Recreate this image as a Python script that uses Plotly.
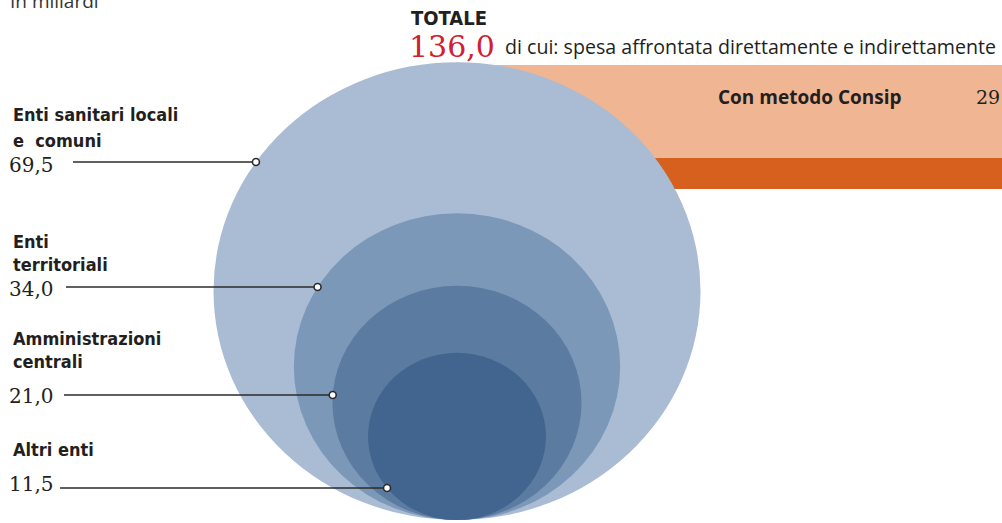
import plotly.graph_objects as go

# ---- data ----
categories = ["Enti sanitari locali", "Enti territoriali", "Amministrazioni centrali", "Altri enti"]
label_lines = [["Enti sanitari locali", "e\u00a0 comuni"], ["Enti", "territoriali"],
               ["Amministrazioni", "centrali"], ["Altri enti"]]
values = [69.5, 34.0, 21.0, 11.5]
value_labels = ["69,5", "34,0", "21,0", "11,5"]
total = 136.0
total_label = "136,0"
consip_label = "Con metodo Consip"
consip_value = 29

# ---- style / layout ----
W, H = 1002, 523
colors = ["#a9bcd4", "#7c98b9", "#5b7ba1", "#41658f"]
CX, BOTTOM = 457, 520
R_MAX = 243.5
ASPECT = 0.94
EXP = 0.56
label_line_y = [162, 287, 395, 488]
label_line_x0 = [73, 66, 64, 60]
name_y = [[114, 140], [241, 264], [338, 361], [449]]
num_y = [165, 289, 396, 484]

SANS_B = "Liberation Sans Narrow, DejaVu Sans Condensed, Arial Narrow, sans-serif"
SANS = "Open Sans, DejaVu Sans, sans-serif"
SERIF = "DejaVu Serif, serif"
TXT = "#231f20"

fig = go.Figure()
shapes = []

# orange bands (behind circles)
shapes.append(dict(type="rect", xref="x", yref="y", x0=490, x1=W + 5, y0=65, y1=158,
                   fillcolor="#f0b592", line=dict(width=0), layer="below"))
shapes.append(dict(type="rect", xref="x", yref="y", x0=490, x1=W + 5, y0=158, y1=189,
                   fillcolor="#d6601e", line=dict(width=0), layer="below"))

vmax = max(values)
geo = []
for v, c in zip(values, colors):
    rx = R_MAX * (v / vmax) ** EXP
    ry = rx * ASPECT
    cy = BOTTOM - ry
    geo.append((rx, ry, cy))
    shapes.append(dict(type="circle", xref="x", yref="y", x0=CX - rx, x1=CX + rx,
                       y0=cy - ry, y1=cy + ry, fillcolor=c, line=dict(width=0), layer="below"))

# leader lines & dots
for (rx, ry, cy), ly, lx0 in zip(geo, label_line_y, label_line_x0):
    dy = (ly - cy) / ry
    xe = CX - rx * max(0.0, 1 - dy * dy) ** 0.5
    fig.add_trace(go.Scatter(x=[lx0, xe], y=[ly, ly], mode="lines",
                             line=dict(color="#2b2b2b", width=1.6), hoverinfo="skip"))
    fig.add_trace(go.Scatter(x=[xe], y=[ly], mode="markers",
                             marker=dict(size=7, color="white", line=dict(color="#2b2b2b", width=1.6)),
                             hoverinfo="skip"))

ann = []
for lines, ys, nl, ny in zip(label_lines, name_y, value_labels, num_y):
    for t, y in zip(lines, ys):
        ann.append(dict(x=11, y=y, xref="x", yref="y", text=t, showarrow=False, xanchor="left",
                        yanchor="middle", font=dict(family=SANS_B, size=18, color=TXT, weight="bold")))
    ann.append(dict(x=7, y=ny, xref="x", yref="y", text=nl, showarrow=False, xanchor="left",
                    yanchor="middle", font=dict(family=SERIF, size=20, color=TXT)))

ann += [
    dict(x=8, y=1, xref="x", yref="y", text="In miliardi", showarrow=False, xanchor="left",
         yanchor="middle", font=dict(family=SANS, size=19, color="#333333")),
    dict(x=409, y=18, xref="x", yref="y", text="TOTALE", showarrow=False, xanchor="left",
         yanchor="middle", font=dict(family=SANS_B, size=20, color=TXT, weight="bold")),
    dict(x=407, y=46, xref="x", yref="y", text=total_label, showarrow=False, xanchor="left",
         yanchor="middle", font=dict(family=SERIF, size=30, color="#d1202f")),
    dict(x=503, y=46, xref="x", yref="y", text="di cui: spesa affrontata direttamente e indirettamente",
         showarrow=False, xanchor="left", yanchor="middle", font=dict(family=SANS, size=19.6, color=TXT)),
    dict(x=716, y=97, xref="x", yref="y", text=consip_label, showarrow=False, xanchor="left",
         yanchor="middle", font=dict(family=SANS, size=19, color=TXT, weight="bold")),
    dict(x=974, y=97, xref="x", yref="y", text=str(consip_value), showarrow=False, xanchor="left",
         yanchor="middle", font=dict(family=SERIF, size=19, color=TXT)),
]

fig.update_layout(
    width=W, height=H, margin=dict(l=0, r=0, t=0, b=0),
    paper_bgcolor="white", plot_bgcolor="white", showlegend=False,
    xaxis=dict(range=[0, W], visible=False, fixedrange=True),
    yaxis=dict(range=[H, 0], visible=False, fixedrange=True),
    shapes=shapes, annotations=ann,
)
fig.write_html("out.html")
